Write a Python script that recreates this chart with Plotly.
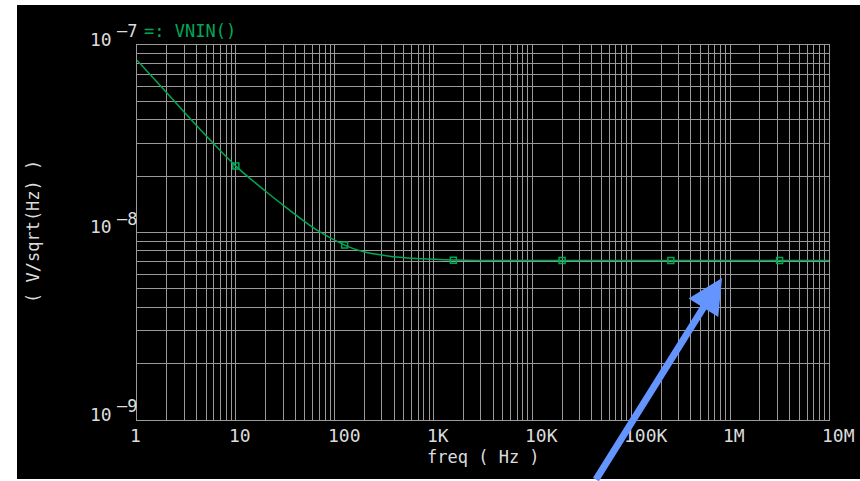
import numpy as np
import plotly.graph_objects as go

# ---- data ----
freq = [1, 2, 4, 10, 20, 30, 40, 70, 126, 180, 265, 390, 850, 2000, 10000, 1e5, 1e6, 1e7]
vnin = [8.3e-8, 5.56e-8, 3.72e-8, 2.26e-8, 1.66e-8, 1.40e-8, 1.245e-8, 1.01e-8, 8.57e-9,
        8.0e-9, 7.65e-9, 7.43e-9, 7.22e-9, 7.12e-9, 7.1e-9, 7.1e-9, 7.1e-9, 7.1e-9]
marker_freq = [10, 126, 1585, 19953, 251189, 3162278]
marker_vnin = [2.26e-8, 8.57e-9, 7.12e-9, 7.1e-9, 7.1e-9, 7.1e-9]
xtick_vals = [1, 10, 100, 1e3, 1e4, 1e5, 1e6, 1e7]
xtick_text = ["1", "10", "100", "1K", "10K", "100K", "1M", "10M"]
ytick_vals = [1e-9, 1e-8, 1e-7]
ytick_base = ["10", "10", "10"]
ytick_exp = ["—9", "—8", "—7"]
legend_text = "=: VNIN()"
x_title = "freq ( Hz )"
y_title = "( V/sqrt(Hz) )"

W, H = 860, 481
ML, MR, MT, MB = 137, 31, 45, 61
PW, PH = W - ML - MR, H - MT - MB

def px(x):
    return (x - ML) / PW

def py(y):
    return (H - MB - y) / PH

GREEN = "#00a855"
GRID = "#9a9a9a"
TXT = "#dcdcdc"
FONT = "DejaVu Sans Mono"

fig = go.Figure()
fig.add_trace(go.Scatter(x=freq, y=vnin, mode="lines", line_shape="spline",
                         line=dict(color=GREEN, width=1.5), showlegend=False))
fig.add_trace(go.Scatter(x=marker_freq, y=marker_vnin, mode="markers",
                         marker=dict(symbol="square-open", size=6, color=GREEN,
                                     line=dict(width=1.5, color=GREEN)),
                         showlegend=False))

grid_x = [m * 10 ** k for k in range(0, 7) for m in range(1, 10)] + [1e7]
grid_y = [m * 10 ** k for k in range(-9, -7) for m in range(1, 10)] + [1e-7]

fig.update_xaxes(type="log", range=[0, 7], tickvals=grid_x, showticklabels=False,
                 showgrid=True, gridcolor=GRID, gridwidth=1, ticks="",
                 showline=True, linecolor=GRID, linewidth=1, mirror=True, zeroline=False)
fig.update_yaxes(type="log", range=[-9, -7], tickvals=grid_y, showticklabels=False,
                 showgrid=True, gridcolor=GRID, gridwidth=1, ticks="",
                 showline=True, linecolor=GRID, linewidth=1, mirror=True, zeroline=False)

ann = []
for v, t in zip(xtick_vals, xtick_text):
    ann.append(dict(x=np.log10(v), y=0, xref="x", yref="paper", text=t, showarrow=False,
                    xanchor="left", yanchor="middle", xshift=-9, yshift=-15,
                    font=dict(family=FONT, size=18, color=TXT)))
for v, b, e in zip(ytick_vals, ytick_base, ytick_exp):
    ann.append(dict(x=0, y=np.log10(v), xref="paper", yref="y", text=b, showarrow=False,
                    xanchor="right", yanchor="middle", xshift=-23, yshift=6,
                    font=dict(family=FONT, size=18, color=TXT)))
    ann.append(dict(x=0, y=np.log10(v), xref="paper", yref="y", text=e, showarrow=False,
                    xanchor="right", yanchor="middle", xshift=2, yshift=14,
                    font=dict(family=FONT, size=17, color=TXT)))
ann.append(dict(x=px(142), y=py(31), xref="paper", yref="paper", text=legend_text,
                showarrow=False, xanchor="left", yanchor="middle",
                font=dict(family=FONT, size=17, color=GREEN)))
ann.append(dict(x=px(483), y=py(457), xref="paper", yref="paper", text=x_title,
                showarrow=False, xanchor="center", yanchor="middle",
                font=dict(family=FONT, size=17, color=TXT)))
ann.append(dict(x=px(33), y=py(232), xref="paper", yref="paper", text=y_title,
                showarrow=False, xanchor="center", yanchor="middle", textangle=-90,
                font=dict(family=FONT, size=17, color=TXT)))
# blue arrow
ann.append(dict(x=px(722), y=py(278), xref="paper", yref="paper", text="",
                showarrow=True, ax=-127, ay=205, arrowcolor="#6495ff",
                arrowwidth=7, arrowhead=2, arrowsize=1.0, standoff=0))

fig.update_layout(
    width=W, height=H,
    margin=dict(l=ML, r=MR, t=MT, b=MB),
    paper_bgcolor="white", plot_bgcolor="black",
    annotations=ann,
    shapes=[dict(type="rect", xref="paper", yref="paper", layer="below",
                 x0=px(17), x1=px(W + 5), y0=py(479), y1=py(5),
                 fillcolor="black", line=dict(width=0))],
)

fig.write_html("out.html")
